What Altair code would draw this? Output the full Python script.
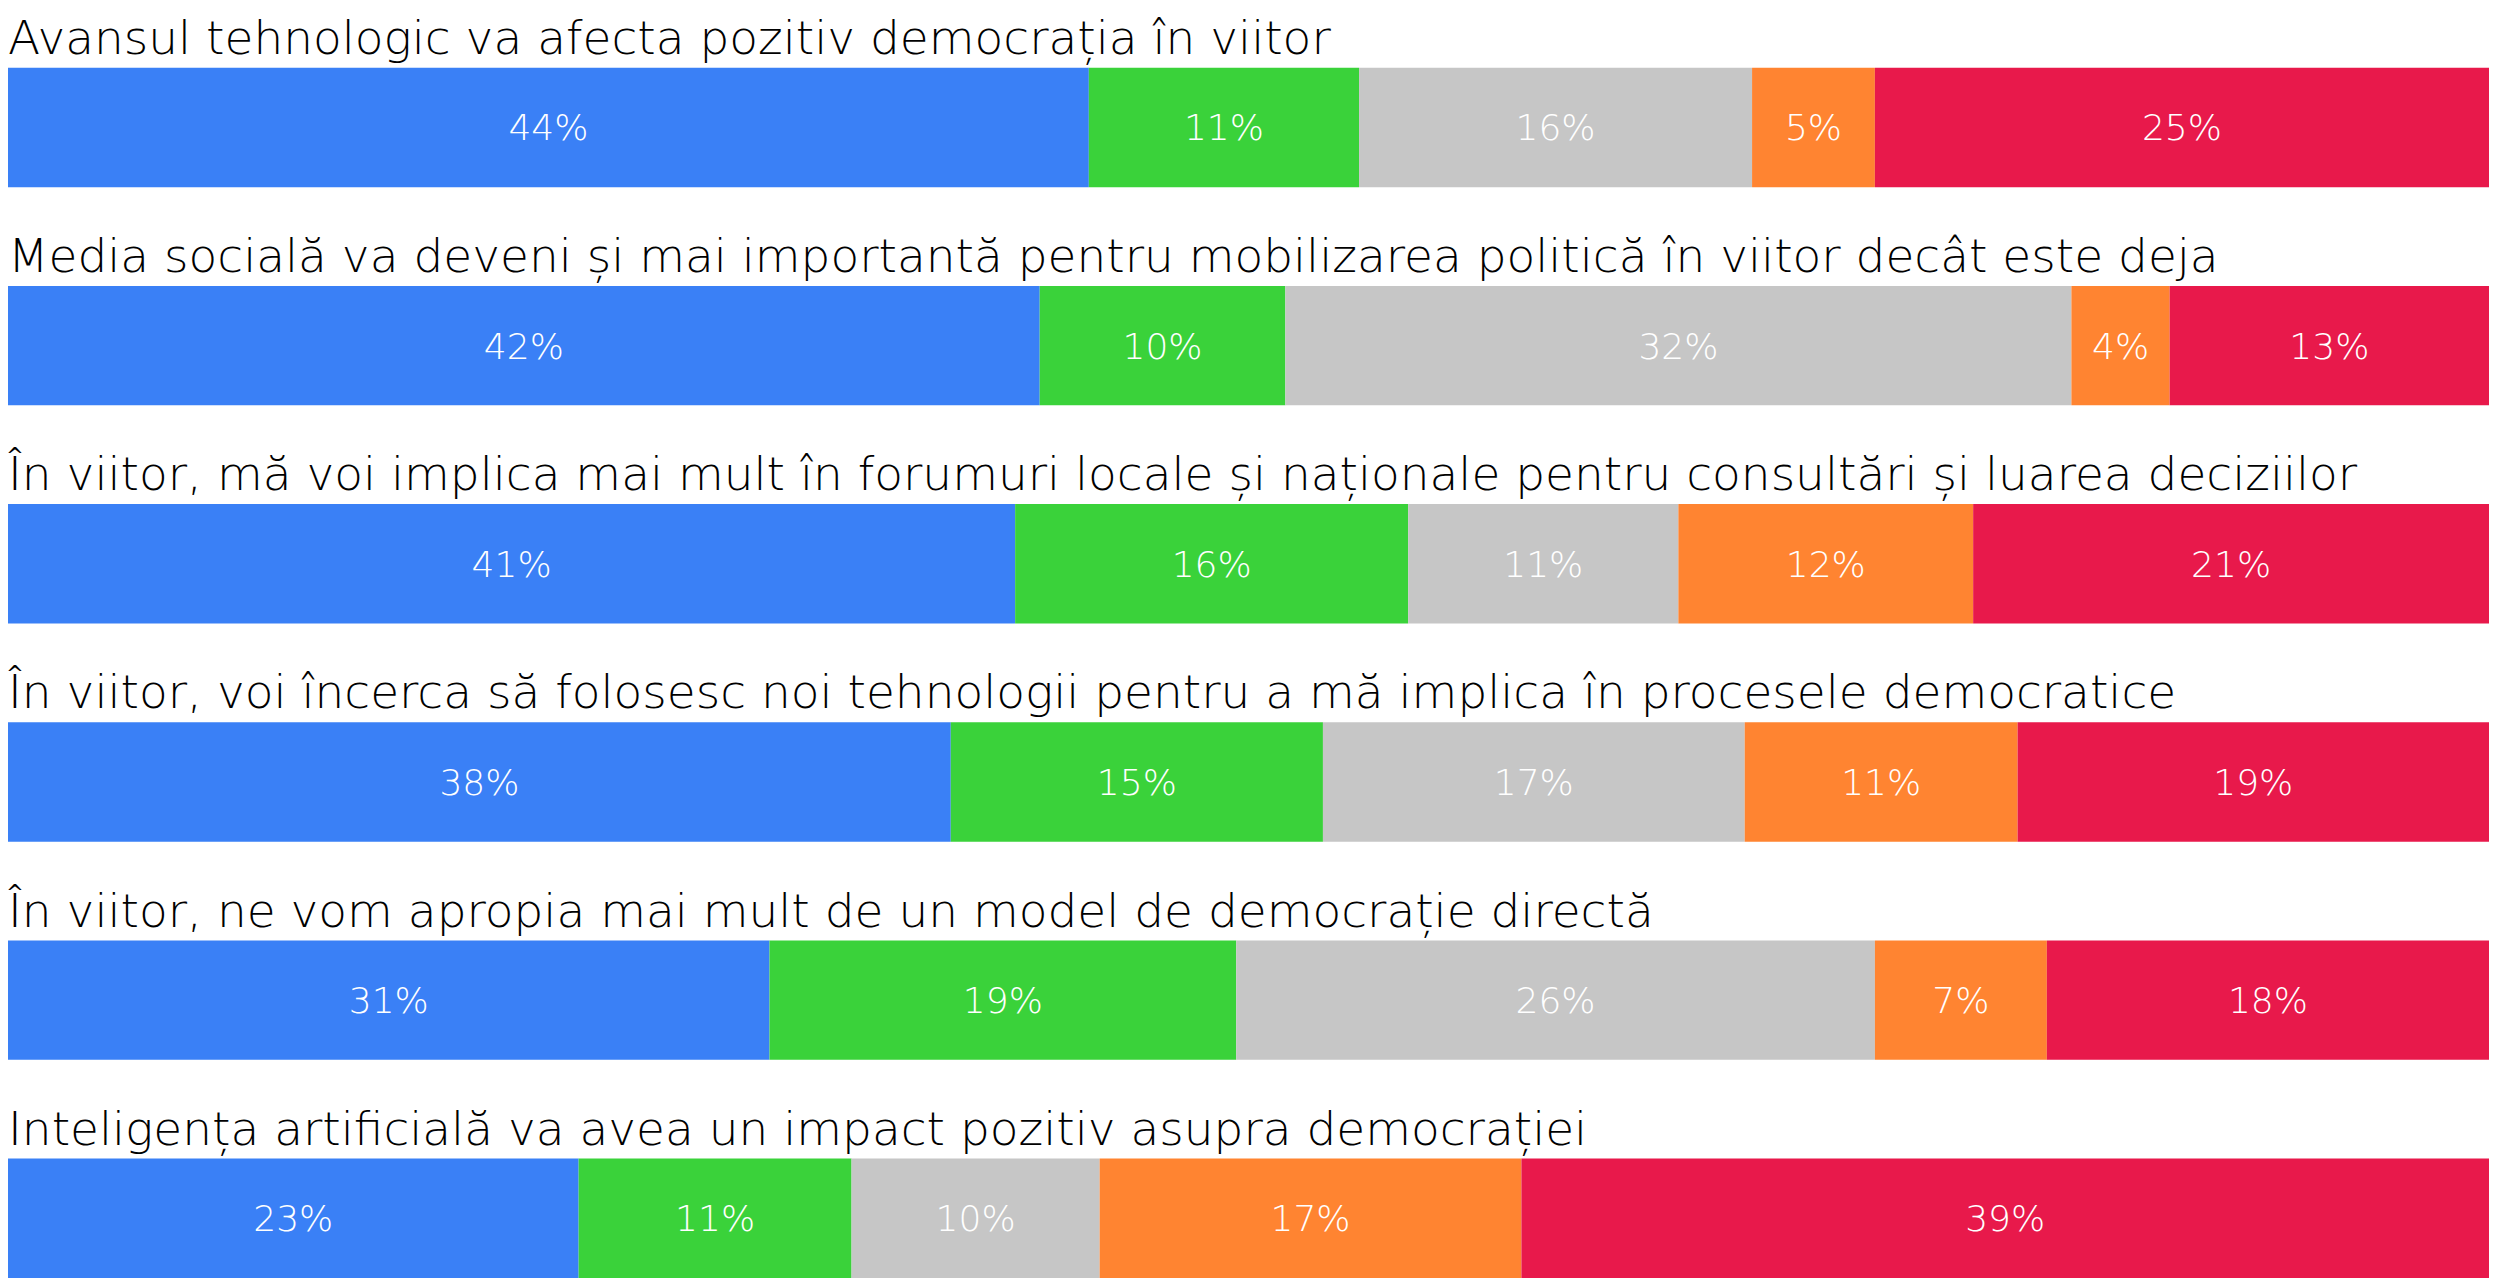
import altair as alt
import pandas as pd

questions = [
    "Avansul tehnologic va afecta pozitiv democrația în viitor",
    "Media socială va deveni și mai importantă pentru mobilizarea politică în viitor decât este deja",
    "În viitor, mă voi implica mai mult în forumuri locale și naționale pentru consultări și luarea deciziilor",
    "În viitor, voi încerca să folosesc noi tehnologii pentru a mă implica în procesele democratice",
    "În viitor, ne vom apropia mai mult de un model de democrație directă",
    "Inteligența artificială va avea un impact pozitiv asupra democrației",
]
categories = ["c1", "c2", "c3", "c4", "c5"]
blue_vals = [44, 42, 41, 38, 31, 23]
green_vals = [11, 10, 16, 15, 19, 11]
gray_vals = [16, 32, 11, 17, 26, 10]
orange_vals = [5, 4, 12, 11, 7, 17]
red_vals = [25, 13, 21, 19, 18, 39]
colors = ["#3a80f6", "#3ad23a", "#c6c6c6", "#ff8431", "#e8194b"]

series = [blue_vals, green_vals, gray_vals, orange_vals, red_vals]
rows = []
for r, q in enumerate(questions):
    for k, (cat, vals) in enumerate(zip(categories, series)):
        rows.append({"row": r, "q": q, "cat": cat, "order": k,
                     "value": vals[r], "label": f"{vals[r]}%"})
df = pd.DataFrame(rows)
tdf = pd.DataFrame({"row": list(range(len(questions))), "q": questions})

FONT = "DejaVu Sans"
xs = alt.Scale(domain=[0, 1], nice=False, zero=False)
yenc = alt.Y("row:O", axis=None,
             scale=alt.Scale(paddingInner=0.4525, paddingOuter=0.137, align=1))

base = alt.Chart(df).transform_stack(
    stack="value", groupby=["row"], as_=["v0", "v1"], offset="normalize",
    sort=[alt.SortField("order", "ascending")],
)

bars = base.mark_bar().encode(
    x=alt.X("v0:Q", scale=xs, axis=None),
    x2="v1:Q",
    y=yenc,
    color=alt.Color("cat:N", scale=alt.Scale(domain=categories, range=colors), legend=None),
)

labels = base.transform_calculate(mid="(datum.v0 + datum.v1) / 2").mark_text(
    color="white", fontSize=36, font=FONT, fontWeight=300, baseline="middle", dy=2
).encode(
    x=alt.X("mid:Q", scale=xs, axis=None),
    y=yenc,
    text="label:N",
)

titles = alt.Chart(tdf).mark_text(
    align="left", baseline="alphabetic", dy=-73.5, fontSize=47, font=FONT,
    fontWeight=300, color="#000000"
).encode(
    x=alt.value(0),
    y=yenc,
    text="q:N",
)

chart = alt.layer(bars, labels, titles).properties(
    width=2481, height=1270,
    autosize=alt.AutoSizeParams(type="fit", contains="padding"),
    padding=0,
).configure_view(stroke=None)

chart.save("out.html", embed_options={"renderer": "svg", "actions": False})
